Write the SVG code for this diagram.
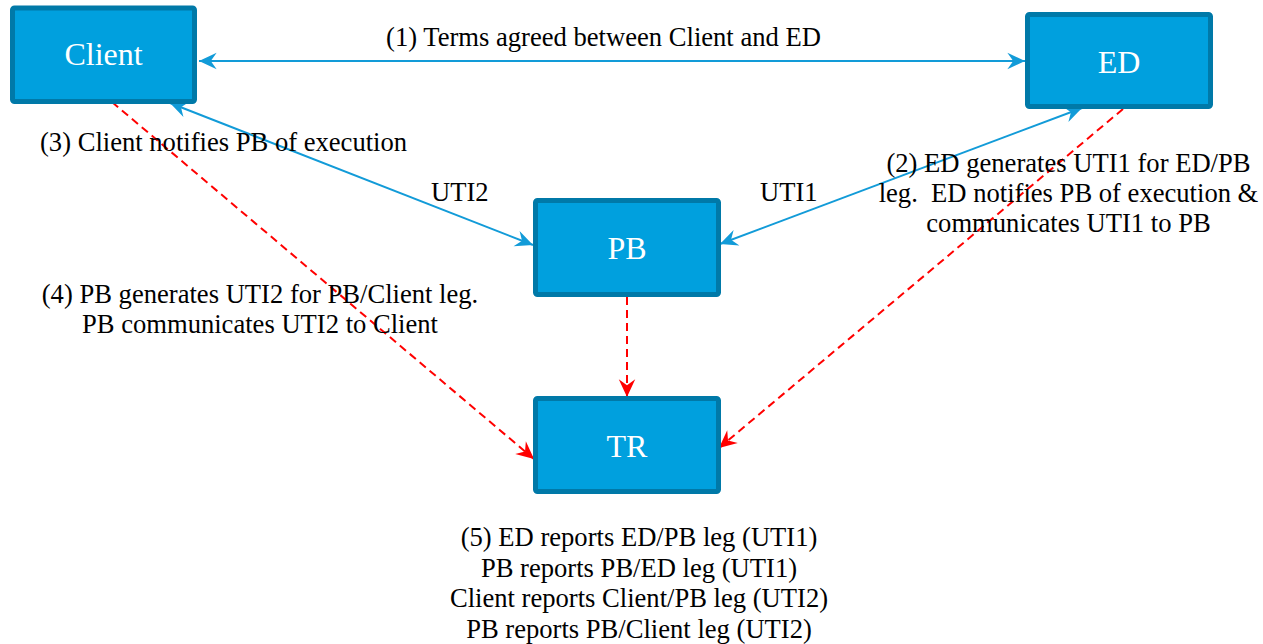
<svg xmlns="http://www.w3.org/2000/svg" width="1263" height="644" viewBox="0 0 1263 644">
<style>
.box{fill:#00a0de;stroke:#0079a8;stroke-width:5}
.lbl{font-size:32px;fill:#ffffff;text-anchor:middle}
.t{font-size:26.6px;fill:#000000}
.c{text-anchor:middle}
.blue{stroke:#129bd8;stroke-width:2;fill:none}
.red{stroke:#ff0000;stroke-width:2;fill:none;stroke-dasharray:8 5}
</style>
<defs>
<marker id="ab" markerUnits="userSpaceOnUse" markerWidth="20" markerHeight="20" viewBox="-16 -8 17 16" refX="0" refY="0" orient="auto-start-reverse">
<path d="M0,0 L-15,-7 L-10,0 L-15,7 Z" fill="#129bd8"/>
</marker>
<marker id="ar" markerUnits="userSpaceOnUse" markerWidth="20" markerHeight="20" viewBox="-16 -8 17 16" refX="0" refY="0" orient="auto">
<path d="M0,0 L-15,-7 L-10,0 L-15,7 Z" fill="#ff0000"/>
</marker>
</defs>
<g id="connectors">
<line class="blue" x1="199" y1="61" x2="1025" y2="61" marker-start="url(#ab)" marker-end="url(#ab)"/>
<line class="blue" x1="170" y1="103" x2="533" y2="245" marker-start="url(#ab)" marker-end="url(#ab)"/>
<line class="blue" x1="1082" y1="108" x2="720" y2="244" marker-start="url(#ab)" marker-end="url(#ab)"/>
<line class="red" x1="112" y1="102" x2="534" y2="459" marker-end="url(#ar)"/>
<line class="red" x1="1123" y1="109" x2="719" y2="448" marker-end="url(#ar)"/>
<line class="red" x1="627" y1="297" x2="627" y2="397" marker-end="url(#ar)"/>
</g>
<g font-family="Liberation Serif, DejaVu Serif, serif">
<g id="node-client">
<rect class="box" x="12.5" y="8" width="182" height="93.5" rx="2"/>
<text class="lbl" x="103.5" y="65">Client</text>
</g>
<g id="node-ed">
<rect class="box" x="1027.5" y="14.5" width="183" height="92" rx="2"/>
<text class="lbl" x="1119" y="72.5">ED</text>
</g>
<g id="node-pb">
<rect class="box" x="535.5" y="200.5" width="183" height="94" rx="2"/>
<text class="lbl" x="627" y="259">PB</text>
</g>
<g id="node-tr">
<rect class="box" x="535.5" y="398.5" width="183" height="93" rx="2"/>
<text class="lbl" x="627" y="457">TR</text>
</g>
<g id="labels">
<text class="t c" x="603.5" y="46">(1) Terms agreed between Client and ED</text>
<text class="t" x="40" y="151">(3) Client notifies PB of execution</text>
<text class="t" x="431" y="201">UTI2</text>
<text class="t" x="760" y="201">UTI1</text>
<text class="t c" x="1068.5" y="171.5">(2) ED generates UTI1 for ED/PB</text>
<text class="t c" x="1068.5" y="201.5" xml:space="preserve">leg.  ED notifies PB of execution &amp;</text>
<text class="t c" x="1068.5" y="231.5">communicates UTI1 to PB</text>
<text class="t c" x="260" y="302.5">(4) PB generates UTI2 for PB/Client leg.</text>
<text class="t c" x="260" y="333">PB communicates UTI2 to Client</text>
<text class="t c" x="639" y="546">(5) ED reports ED/PB leg (UTI1)</text>
<text class="t c" x="639" y="576.5">PB reports PB/ED leg (UTI1)</text>
<text class="t c" x="639" y="607">Client reports Client/PB leg (UTI2)</text>
<text class="t c" x="639" y="637.5">PB reports PB/Client leg (UTI2)</text>
</g>
</g>
</svg>
